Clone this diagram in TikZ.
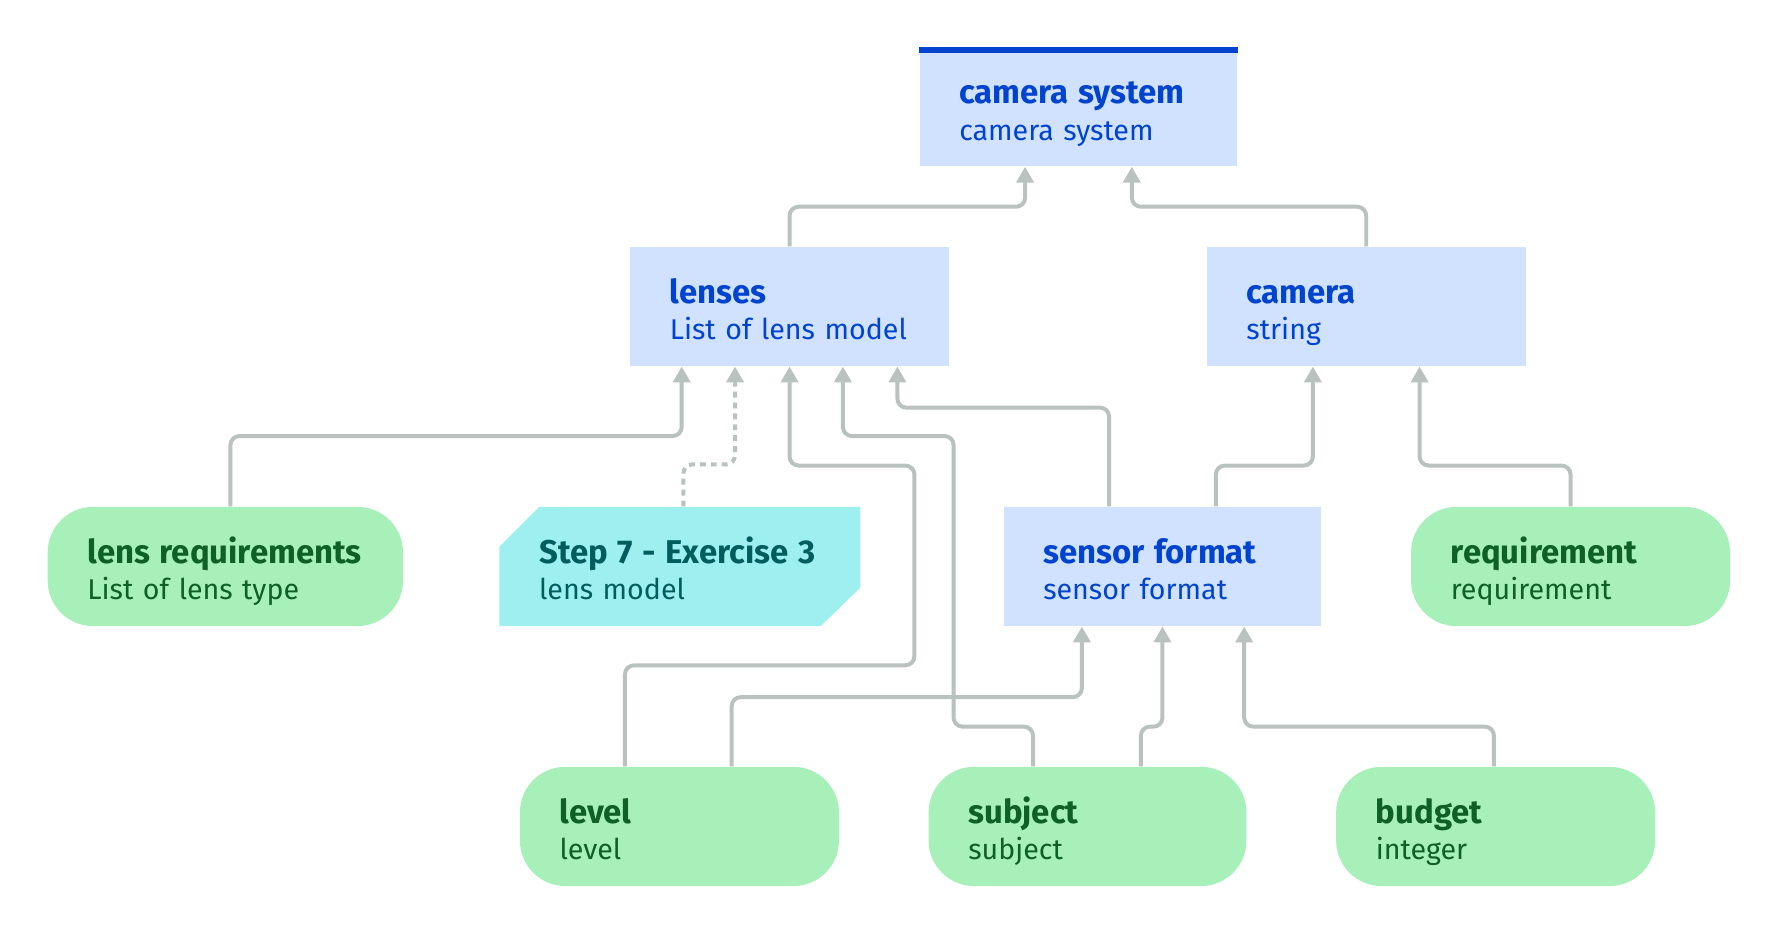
\documentclass[tikz,border=0pt]{standalone}
\usepackage{fontspec}
\setmainfont{Fira Sans}
\usetikzlibrary{
    calc,
    arrows.meta
}
\definecolor{boxblue}{HTML}{D0E2FF}
\definecolor{textblue}{HTML}{0043CE}
\definecolor{boxgreen}{HTML}{A7F0BA}
\definecolor{textgreen}{HTML}{0E6027}
\definecolor{boxcyan}{HTML}{9EF0F0}
\definecolor{textcyan}{HTML}{005D5D}
\definecolor{linegray}{HTML}{BAC2C0}
\newcommand{\titlefont}{\fontsize{14.5}{16}\selectfont\bfseries}
\newcommand{\typefont}{\fontsize{12.6}{16}\selectfont}
\tikzset {
    field/.style = {
        rectangle,
        inner xsep = 0pt,
        inner ysep = 0pt,
        text width = #1,
        minimum height = 52.5pt,
        align = left,
        text height = 16.25pt,
        text depth = 18.75pt,
        font = \typefont,
        execute at begin node = {\leftskip = 17.5pt\hyphenpenalty = 10000}
    },
    field/.default = 140pt,
    blue box/.style = {field = #1, fill = boxblue, text = textblue},
    blue box/.default = 140pt,
    green box/.style = {field = #1, rounded corners = 20pt, fill = boxgreen, text = textgreen},
    green box/.default = 140pt,
    cyan box/.style = {
        field = #1,
        text = textcyan,
        path picture = {
            \fill [boxcyan]
                ($(path picture bounding box.north west) + (17.5pt, 0)$)
                -- (path picture bounding box.north east)
                -- ($(path picture bounding box.south east) + (0, 17pt)$)
                -- ($(path picture bounding box.south east) + (-17.5pt, 0)$)
                -- (path picture bounding box.south west)
                -- ($(path picture bounding box.north west) + (0, -17.5pt)$)
                -- cycle;
        }
    },
    link/.style = {
        draw = linegray,
        line width = 1.75pt,
        rounded corners = 4pt,
        -{Triangle[width = 7.5pt, length = 7pt]}
    },
    dotted link/.style = {link, dash pattern = on 2.6pt off 2.2pt}
}
\begin{document}
\begin{tikzpicture}[x = 0.5pt, y = -0.5pt]
    \useasboundingbox (0, 0) rectangle (1568, 824);
    % types
    \node (sys) [blue box] at (950, 94) {{\titlefont camera system}\\camera system};
    \fill [textblue] (sys.north west) rectangle ($(sys.north east) + (0, 5.3)$);
    \node (lenses) [blue box = 140.5pt] at (695.5, 270) {{\titlefont lenses}\\List of lens model};
    \node (camera) [blue box = 140.5pt] at (1203.5, 270) {{\titlefont camera}\\string};
    \node (lensreq) [green box = 156.5pt] at (198.5, 499) {{\titlefont lens requirements}\\List of lens type};
    \node (step) [cyan box = 159pt] at (599, 499) {{\titlefont Step 7 - Exercise 3}\\lens model};
    \node (sensor) [blue box] at (1024, 499) {{\titlefont sensor format}\\sensor format};
    \node (req) [green box = 140.5pt] at (1383.5, 499) {{\titlefont requirement}\\requirement};
    \node (level) [green box = 140.5pt] at (598.5, 728) {{\titlefont level}\\level};
    \node (subject) [green box] at (958, 728) {{\titlefont subject}\\subject};
    \node (budget) [green box = 140.5pt] at (1317.5, 728) {{\titlefont budget}\\integer};
    % links
    \draw [link] (lenses.north) -- ++(0, -35) -| ($(sys.south) + (-47, 0)$);
    \draw [link] (camera.north) -- ++(0, -35) -| ($(sys.south) + (47, 0)$);
    \draw [link] ($(lensreq.north) + (4.5, 0)$) -- ++(0, -62) -| ($(lenses.south) + (-95, 0)$);
    \draw [dotted link] ($(step.north) + (3, 0)$) -- ++(0, -37) -| ($(lenses.south) + (-48, 0)$);
    \draw [link] ($(level.north) + (-48, 0)$) -- ++(0, -89) -- ++(255, 0) -- ++(0, -176) -| (lenses.south);
    \draw [link] ($(level.north) + (46, 0)$) -- ++(0, -61) -| ($(sensor.south) + (-71, 0)$);
    \draw [link] ($(subject.north) + (-48, 0)$) -- ++(0, -35) -- ++(-70, 0) -- ++(0, -256) -| ($(lenses.south) + (47, 0)$);
    \draw [link] ($(subject.north) + (47, 0)$) -- ++(0, -35) -| (sensor.south);
    \draw [link] ($(budget.north) + (-1.5, 0)$) -- ++(0, -35) -| ($(sensor.south) + (72, 0)$);
    \draw [link] ($(sensor.north) + (-47, 0)$) -- ++(0, -87) -| ($(lenses.south) + (95, 0)$);
    \draw [link] ($(sensor.north) + (47, 0)$) -- ++(0, -36) -| ($(camera.south) + (-47, 0)$);
    \draw [link] (req.north) -- ++(0, -36) -| ($(camera.south) + (47, 0)$);
\end{tikzpicture}
\end{document}
